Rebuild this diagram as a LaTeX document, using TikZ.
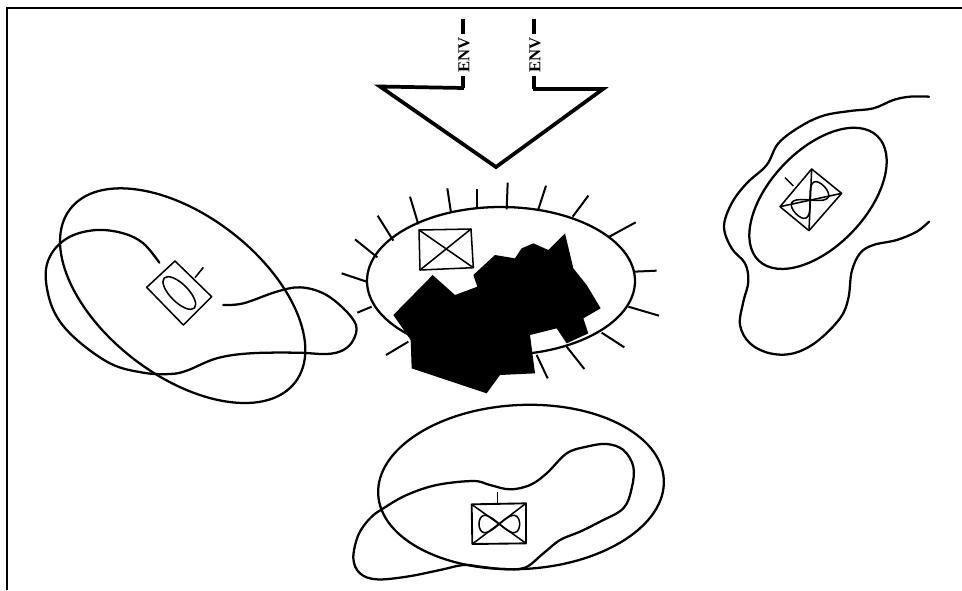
\documentclass[tikz,border=0pt]{standalone}
\usepackage{fontspec}
\setmainfont{Liberation Serif}
\tikzset{
  sketch/.style={line width=1.7pt,line join=round,line cap=round,black},
  thinbox/.style={line width=1.15pt,line join=round,black},
  arrowline/.style={line width=2.8pt,line join=miter,black},
  stemline/.style={line width=3.6pt,black},
  spike/.style={line width=1.5pt,black},
  envlabel/.style={rotate=90,inner sep=0pt,font=\bfseries\fontsize{12.5}{12.5}\selectfont},
  zoomCenter/.style={shift={(340,180)},x=.25pt,y=-.25pt},
  zoomLeft/.style={shift={(30,180)},x=.25pt,y=-.25pt},
  zoomRight/.style={shift={(710,85)},x=.25pt,y=-.25pt},
  zoomBottom/.style={shift={(340,395)},x=.25pt,y=-.25pt},
}
\begin{document}
\begin{tikzpicture}[x=.75pt,y=-.75pt]
\useasboundingbox (0,0) rectangle (962,590);
% frame
\draw[line width=1.2pt] (7,590) -- (7,8);
\draw[line width=2.2pt] (6,8) -- (962,8);
% big arrow
\node[envlabel] (envL) at (464,55) {ENV};
\node[envlabel] (envR) at (535,55) {ENV};
\draw[stemline] (463,19) -- (463,34);
\draw[stemline] (534,19) -- (534,34);
\draw[stemline] (463,76) -- (463,88);
\draw[stemline] (534,76) -- (534,89);
\draw[arrowline,miter limit=10] (464,88) -- (380,86.5) -- (496,167) -- (603,89) -- (533,89);
% centre
\begin{scope}[zoomCenter]
\draw[sketch] (483,303) ellipse [x radius=402,y radius=222];
\foreach \a/\b/\c/\d in {5/280/80/305,45/178/112/232,113/107/160/182,210/50/235/133,322/25/333/98,410/28/410/88,503/8/500/88,618/17/595/88,745/47/698/110,887/127/808/170,950/272/882/275,957/407/865/380,853/502/785/458,733/567/680/500,623/595/590/525,138/525/205/485,52/398/95/380}
  \draw[spike] (\a,\b) -- (\c,\d);
\fill[black,line join=round] (278,285) -- (345,345) -- (412,320) -- (400,285) -- (465,225) -- (525,235) -- (545,205) -- (580,190) -- (625,210) -- (675,160) -- (700,265) -- (740,315) -- (782,385) -- (730,415) -- (745,460) -- (680,490) -- (650,445) -- (570,465) -- (585,580) -- (480,585) -- (440,640) -- (215,565) -- (212,480) -- (160,405) -- cycle;
\draw[thinbox] (237,150) -- (393,147) -- (400,263) -- (240,270) -- cycle;
\draw[thinbox] (237,150) -- (400,263) (393,147) -- (240,270);
\end{scope}
% left
\begin{scope}[zoomLeft]
\draw[sketch,rotate around={-37.6:(458,347)}] (458,347) ellipse [x radius=426,y radius=240];
\draw[sketch] plot[smooth,tension=.6] coordinates {(388,248) (340,190) (280,160) (200,150) (120,170) (65,220) (47,290) (70,390) (130,470) (240,550) (340,578) (420,582) (470,572) (560,535) (660,520) (800,518) (890,522) (940,510) (970,480) (978,435) (940,385) (880,340) (810,322) (740,335) (640,370) (580,375)};
\draw[thinbox] (435,243) -- (545,350) -- (460,435) -- (350,322) -- cycle;
\draw[thinbox] (495,293) -- (520,262);
\draw[thinbox,rotate around={-45:(448,339)}] (448,339) ellipse [x radius=64,y radius=27];
\end{scope}
% right
\begin{scope}[zoomRight]
\draw[sketch,rotate around={46.5:(324,340)}] (324,340) ellipse [x radius=258,y radius=144];
\draw[sketch] plot[smooth,tension=.6] coordinates {(657,35) (600,35) (550,45) (490,70) (420,78) (340,92) (270,125) (205,175) (170,240) (110,295) (65,355) (42,425) (65,490) (105,535) (115,590) (100,650) (90,720) (120,775) (180,805) (250,805) (320,770) (390,700) (415,640) (425,560) (450,505) (490,480) (560,465) (620,440) (657,410)};
\draw[thinbox] (305,252) -- (395,325) -- (297,437) -- (210,365) -- cycle;
\draw[thinbox] (305,252) -- (297,437) (395,325) -- (210,365);
\draw[thinbox] (250,303) -- (225,278);
\draw[thinbox,rotate around={43:(300,345)}] plot[smooth cycle,samples=36,domain=0:350] ({300+59*cos(\x)},{345+32*sin(2*\x)});
\end{scope}
% bottom
\begin{scope}[zoomBottom]
\draw[sketch,rotate around={3:(543,276)}] (543,276) ellipse [x radius=429,y radius=246];
\draw[sketch] plot[smooth cycle,tension=.6] coordinates {(130,340) (200,300) (290,270) (400,258) (450,270) (510,283) (570,270) (620,235) (680,175) (740,155) (800,147) (850,165) (880,215) (875,280) (850,340) (780,380) (720,410) (660,435) (610,475) (555,518) (490,522) (420,515) (370,510) (300,525) (200,545) (110,553) (60,535) (40,490) (55,420) (90,370)};
\draw[thinbox,line width=1.4pt] (395,328) -- (558,325) -- (558,445) -- (397,447) -- cycle;
\draw[thinbox] (395,328) -- (558,445) (558,325) -- (397,447);
\draw[thinbox] (473,290) -- (473,325);
\draw[thinbox] plot[smooth cycle,samples=36,domain=0:350] ({478+61*cos(\x)},{387+26*sin(2*\x)});
\end{scope}
\end{tikzpicture}
\end{document}
